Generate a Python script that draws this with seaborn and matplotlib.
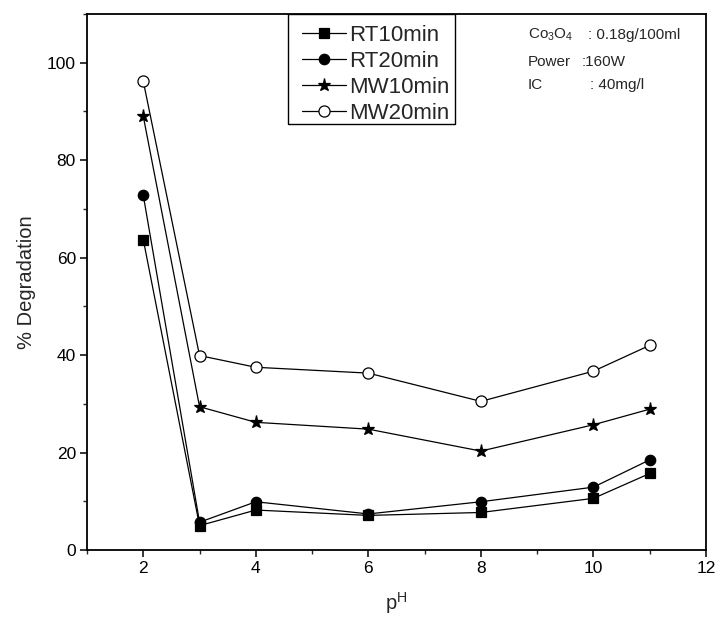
import matplotlib
matplotlib.use("Agg")
import matplotlib.pyplot as plt
from matplotlib.patches import Rectangle
from matplotlib.ticker import MultipleLocator
import pandas as pd
import seaborn as sns

# pH values and % degradation for each treatment
ph = [2, 3, 4, 6, 8, 10, 11]
rt10 = [63.7, 5.0, 8.2, 7.1, 7.7, 10.6, 15.7]
rt20 = [72.8, 5.7, 9.9, 7.4, 9.9, 12.9, 18.5]
mw10 = [89.0, 29.4, 26.2, 24.8, 20.3, 25.7, 28.9]
mw20 = [96.2, 39.9, 37.5, 36.3, 30.5, 36.7, 42.0]

series_names = ["RT10min", "RT20min", "MW10min", "MW20min"]
series_values = [rt10, rt20, mw10, mw20]

sns.set_theme(style="ticks")
plt.rcParams["font.family"] = ["Liberation Sans", "DejaVu Sans"]
plt.rcParams["mathtext.fontset"] = "custom"
plt.rcParams["mathtext.rm"] = "Liberation Sans"
plt.rcParams["mathtext.it"] = "Liberation Sans:italic"
plt.rcParams["mathtext.bf"] = "Liberation Sans:bold"

fig = plt.figure(figsize=(7.16, 6.17), dpi=100)
ax = fig.add_axes([87 / 716, 67 / 617, 619 / 716, 536 / 617])

marker_styles = {
    "RT10min": dict(marker="s", markersize=6.5, markerfacecolor="black"),
    "RT20min": dict(marker="o", markersize=7.5, markerfacecolor="black"),
    "MW10min": dict(marker="*", markersize=9.5, markerfacecolor="black"),
    "MW20min": dict(marker="o", markersize=8, markerfacecolor="white"),
}

for name, vals in zip(series_names, series_values):
    df = pd.DataFrame({"pH": ph, "deg": vals})
    sns.lineplot(data=df, x="pH", y="deg", ax=ax, color="black", linewidth=0.9,
                 markeredgecolor="black", markeredgewidth=0.9, label=name,
                 **marker_styles[name])

ax.set_xlim(1, 12)
ax.set_ylim(0, 110)
ax.xaxis.set_major_locator(MultipleLocator(2))
ax.xaxis.set_minor_locator(MultipleLocator(1))
ax.yaxis.set_major_locator(MultipleLocator(20))
ax.yaxis.set_minor_locator(MultipleLocator(10))
ax.tick_params(which="major", direction="out", length=5, width=1.1, labelsize=12.5,
               colors="black", pad=3)
ax.tick_params(which="minor", direction="out", length=3, width=1.0)
for sp in ax.spines.values():
    sp.set_visible(True)
    sp.set_linewidth(1.3)
    sp.set_color("black")

ax.set_xlabel(r"p$^{\mathrm{H}}$", fontsize=14.5, labelpad=10)
ax.set_ylabel("% Degradation", fontsize=14.5, labelpad=8)

# legend entries without their own frame, inside a box hanging from the top spine
leg = ax.legend(loc="upper left", bbox_to_anchor=(0.347, 0.980), borderaxespad=0,
                fontsize=16, frameon=False, handlelength=2.0,
                handletextpad=0.15, labelspacing=0.225, borderpad=0)
ax.add_patch(Rectangle((0.3247, 0.795), 0.2698, 0.205, transform=ax.transAxes,
                       facecolor="none", edgecolor="black", linewidth=1.0,
                       clip_on=False, zorder=5))

ax.text(528 / 716, 1 - 35 / 617, r"Co$_3$O$_4$", transform=fig.transFigure,
        fontsize=11, va="center", ha="left")
ax.text(588 / 716, 1 - 35 / 617, ": 0.18g/100ml", transform=fig.transFigure,
        fontsize=11, va="center", ha="left")
ax.text(528 / 716, 1 - 62 / 617, "Power", transform=fig.transFigure,
        fontsize=11, va="center", ha="left")
ax.text(582 / 716, 1 - 62 / 617, ":160W", transform=fig.transFigure,
        fontsize=11, va="center", ha="left")
ax.text(528 / 716, 1 - 85 / 617, "IC", transform=fig.transFigure,
        fontsize=11, va="center", ha="left")
ax.text(590 / 716, 1 - 85 / 617, ": 40mg/l", transform=fig.transFigure,
        fontsize=11, va="center", ha="left")

fig.savefig("out.png", dpi=100, facecolor="white")
